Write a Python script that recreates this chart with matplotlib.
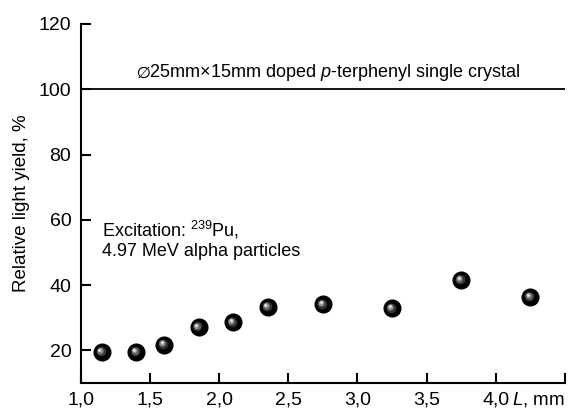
import matplotlib
matplotlib.use("Agg")
import matplotlib.pyplot as plt
from matplotlib.ticker import FuncFormatter
from matplotlib.transforms import offset_copy

plt.rcParams['font.family'] = ['Liberation Sans', 'DejaVu Sans']
plt.rcParams['mathtext.fontset'] = 'custom'
plt.rcParams['mathtext.rm'] = 'Liberation Sans'
plt.rcParams['mathtext.it'] = 'Liberation Sans:italic'
plt.rcParams['mathtext.fallback'] = 'stix'

L = [1.15, 1.40, 1.60, 1.85, 2.10, 2.35, 2.75, 3.25, 3.75, 4.25]
yield_rel = [19.5, 19.5, 21.8, 27.1, 28.6, 33.3, 34.1, 32.9, 41.6, 36.4]
ref_level = 100
xticks = [1.0, 1.5, 2.0, 2.5, 3.0, 3.5, 4.0, 4.5]
yticks = [20, 40, 60, 80, 100, 120]

fig = plt.figure(figsize=(5.71, 4.12), dpi=100)
ax = fig.add_axes([0.142, 0.070, 0.847, 0.872])

# reference line for undoped crystal
ax.plot([1.0, 4.5], [ref_level, ref_level], color='black', lw=1.3)

# shaded "ball" markers: black body + offset gray layers for highlight
ax.plot(L, yield_rel, 'o', ms=12, color='black', mec='black', zorder=3)
shades = [(7, '#333333', 0.8, 0.6), (5, '#666666', 1.2, 1.0), (3.5, '#999999', 1.5, 1.3), (2, '#e5e5e5', 1.7, 1.6)]
for ms, col, dx, dy in shades:
    tr = offset_copy(ax.transData, fig=fig, x=-dx, y=dy, units='points')
    ax.plot(L, yield_rel, 'o', ms=ms, color=col, mec='none', transform=tr, zorder=4)

ax.set_xlim(1.0, 4.5)
ax.set_ylim(10, 120)
ax.set_xticks(xticks)
ax.set_yticks(yticks)
ax.xaxis.set_major_formatter(FuncFormatter(lambda v, p: '' if v > 4.4 else ('%.1f' % v).replace('.', ',')))
ax.tick_params(direction='in', length=7, width=1.5, labelsize=14)
ax.tick_params(axis='x', pad=6)
ax.tick_params(axis='y', pad=7)
for s in ['top', 'right']:
    ax.spines[s].set_visible(False)
for s in ['left', 'bottom']:
    ax.spines[s].set_linewidth(1.5)

ax.set_ylabel('Relative light yield, %', fontsize=13.5, labelpad=6)
ax.annotate(r'$\it{L}$, mm', xy=(4.5, 0), xycoords=ax.get_xaxis_transform(),
            xytext=(0, -5), textcoords='offset points',
            ha='right', va='top', fontsize=13.5)

ax.text(2.786, 103.6, '$\\emptyset$25mm$\\times$15mm doped $\\it{p}$-terphenyl single crystal',
        ha='center', va='baseline', fontsize=13)
ax.text(1.152, 60.2, 'Excitation: $^{239}$Pu,\n4.97 MeV alpha particles',
        ha='left', va='top', fontsize=13, linespacing=1.15)

fig.savefig('out.png', dpi=100)
